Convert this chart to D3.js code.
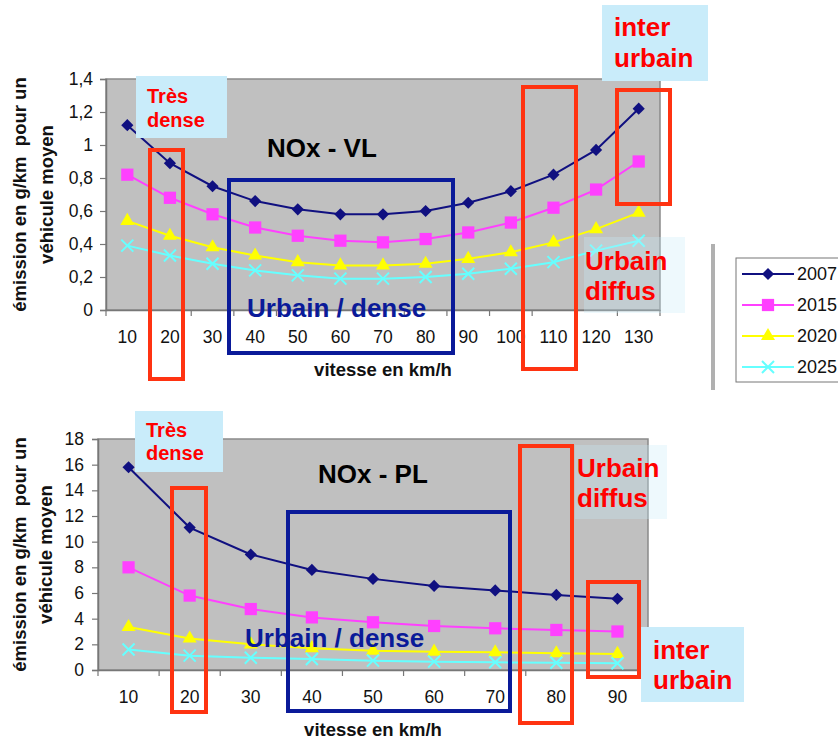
<!DOCTYPE html>
<html><head><meta charset="utf-8">
<script src="https://cdn.jsdelivr.net/npm/d3@7"></script>
<style>
html,body{margin:0;padding:0;background:#fff;}
svg{display:block;font-family:"Liberation Sans",Arial,sans-serif;}
</style></head>
<body><svg id="c" width="838" height="740"></svg>
<script>
// ---------- DATA ----------
const years = ["2007","2015","2020","2025"];
const speedsVL = [10,20,30,40,50,60,70,80,90,100,110,120,130];
const vl2007 = [1.12,0.89,0.75,0.66,0.61,0.58,0.58,0.60,0.65,0.72,0.82,0.97,1.22];
const vl2015 = [0.82,0.68,0.58,0.50,0.45,0.42,0.41,0.43,0.47,0.53,0.62,0.73,0.90];
const vl2020 = [0.54,0.45,0.38,0.33,0.29,0.27,0.27,0.28,0.31,0.35,0.41,0.49,0.59];
const vl2025 = [0.39,0.33,0.28,0.24,0.21,0.19,0.19,0.20,0.22,0.25,0.29,0.36,0.42];
const yTicksVL = [0,0.2,0.4,0.6,0.8,1,1.2,1.4];

const speedsPL = [10,20,30,40,50,60,70,80,90];
const pl2007 = [15.8,11.1,9.0,7.8,7.1,6.55,6.2,5.85,5.55];
const pl2015 = [8.0,5.8,4.75,4.1,3.72,3.43,3.25,3.12,3.0];
const pl2020 = [3.35,2.45,2.0,1.7,1.5,1.43,1.38,1.3,1.25];
const pl2025 = [1.6,1.12,0.96,0.86,0.73,0.65,0.6,0.57,0.52];
const yTicksPL = [0,2,4,6,8,10,12,14,16,18];

const xTitle = "vitesse en km/h";
const yTitle = ["émission en g/km  pour un","véhicule moyen"];

// ---------- STYLE ----------
const colors = ["#101080","#ff40ff","#ffff00","#66ffff"];
const symbols = ["diamond","square","triangle","cross"];
const RED = "#ff3311", BLUE = "#0a1a99", LIGHT = "#c9ecfa";

const svg = d3.select("#c");

function marker(g, type, color){
  if(type==="diamond"){
    g.append("path").attr("d", d3.symbol(d3.symbolSquare, 74)()).attr("transform","rotate(45)").attr("fill",color);
  } else if(type==="square"){
    g.append("path").attr("d", d3.symbol(d3.symbolSquare, 150)()).attr("fill",color);
  } else if(type==="triangle"){
    g.append("path").attr("d", d3.symbol(d3.symbolTriangle, 85)()).attr("fill",color);
  } else {
    g.append("path").attr("d","M-6,-6L6,6M-6,6L6,-6").attr("stroke",color).attr("stroke-width",2).attr("fill","none");
  }
}

function chart(cfg){
  const {speeds, series, yTicks, yMax, left, right, top, bottom, labelX, tickFmt} = cfg;
  const x = d3.scaleBand().domain(speeds).range([left,right]);
  const y = d3.scaleLinear().domain([0,yMax]).range([bottom,top]);
  const g = svg.append("g");
  g.append("rect").attr("x",left).attr("y",top).attr("width",right-left).attr("height",bottom-top)
    .attr("fill","#c0c0c0").attr("stroke","#8a8a8a").attr("stroke-width",1.5);
  // y axis
  const ya = g.append("g").attr("transform",`translate(${left},0)`)
    .call(d3.axisLeft(y).tickValues(yTicks).tickSize(6).tickPadding(labelX).tickFormat(tickFmt));
  ya.select(".domain").attr("stroke","#777").attr("stroke-width",1.5);
  ya.selectAll(".tick line").attr("stroke","#777").attr("stroke-width",1.2);
  ya.selectAll("text").attr("font-size",17.5).attr("fill","#111").attr("font-family","Liberation Sans, Arial");
  // x axis
  const xa = g.append("g").attr("transform",`translate(0,${bottom})`)
    .call(d3.axisBottom(x).tickSize(0).tickPadding(21));
  xa.select(".domain").attr("stroke","#777").attr("stroke-width",1.5);
  xa.selectAll("text").attr("font-size",17.5).attr("fill","#111").attr("font-family","Liberation Sans, Arial");
  const bounds = speeds.map(s=>x(s)).concat([right]);
  g.selectAll(".xt").data(bounds).enter().append("line")
    .attr("x1",d=>d).attr("x2",d=>d).attr("y1",bottom).attr("y2",bottom+6)
    .attr("stroke","#777").attr("stroke-width",1.2);
  // titles
  g.append("text").attr("x",(left+right)/2).attr("y",bottom+66).attr("text-anchor","middle")
    .attr("font-weight","bold").attr("font-size",18.5).attr("fill","#111").text(xTitle);
  const cy = (top+bottom)/2;
  yTitle.forEach((t,i)=>{
    g.append("text").attr("transform",`translate(${cfg.yTitleX[i]},${cy}) rotate(-90)`)
      .attr("text-anchor","middle").attr("dy","0.35em").style("white-space","pre")
      .attr("font-weight","bold").attr("font-size",18.5).attr("fill","#111").text(t);
  });
  // lines
  const cx = s => x(s)+x.bandwidth()/2;
  series.forEach((vals,i)=>{
    const pts = speeds.map((s,j)=>[cx(s), y(vals[j])]);
    g.append("path").attr("d", d3.line()(pts)).attr("fill","none")
      .attr("stroke",colors[i]).attr("stroke-width",2);
    pts.forEach(p=>{
      const m = g.append("g").attr("transform",`translate(${p[0]},${p[1]})`);
      marker(m, symbols[i], colors[i]);
    });
  });
  return {x,y,g};
}

const comma = d => String(d).replace(".",",");

chart({speeds:speedsVL, series:[vl2007,vl2015,vl2020,vl2025], yTicks:yTicksVL, yMax:1.4,
  left:106, right:660, top:79, bottom:310, labelX:7, tickFmt:comma, yTitleX:[20,47]});
chart({speeds:speedsPL, series:[pl2007,pl2015,pl2020,pl2025], yTicks:yTicksPL, yMax:18,
  left:98, right:648, top:439, bottom:670, labelX:8, tickFmt:d=>String(d), yTitleX:[20,46]});

// ---------- ANNOTATIONS ----------
function box(x,y,w,h,fill,op){
  svg.append("rect").attr("x",x).attr("y",y).attr("width",w).attr("height",h).attr("fill",fill).attr("fill-opacity",op==null?1:op);
}
function frame(x,y,w,h,color){
  svg.append("rect").attr("x",x).attr("y",y).attr("width",w).attr("height",h)
    .attr("fill","none").attr("stroke",color).attr("stroke-width",4);
}
function label(x,y,lines,size,color,lh){
  lines.forEach((t,i)=>svg.append("text").attr("x",x).attr("y",y+i*lh).attr("font-size",size)
    .attr("font-weight","bold").attr("fill",color).text(t));
}

// top chart
box(136,76,91,62,LIGHT);
label(147,103,["Très","dense"],20,"#ff0000",24);
box(602,5,106,76,LIGHT);
label(614,36,["inter","urbain"],26,"#ff0000",31);
box(584,237,101,76,"#c8ebfa",0.3);
label(585,270,["Urbain","diffus"],26,"#ff0000",30);
svg.append("text").attr("x",267).attr("y",157).attr("font-size",26).attr("font-weight","bold").attr("fill","#000").text("NOx - VL");
frame(229,180,224,173,BLUE);
label(247,317,["Urbain / dense"],26,BLUE,0);
frame(150,150,33,229,RED);
frame(523,87,53,282,RED);
frame(617,90,53,114,RED);

// bottom chart
box(135,411,88,61,LIGHT);
label(146,437,["Très","dense"],20,"#ff0000",23);
box(575,445,92,74,"#c8ebfa",0.3);
label(577,477,["Urbain","diffus"],26,"#ff0000",30);
box(641,627,103,75,LIGHT);
label(653,659,["inter","urbain"],26,"#ff0000",30);
svg.append("text").attr("x",318).attr("y",483).attr("font-size",26).attr("font-weight","bold").attr("fill","#000").text("NOx - PL");
frame(288,512,222,199,BLUE);
label(245,647,["Urbain / dense"],26,BLUE,0);
frame(172,488,34,224,RED);
frame(520,446,52,277,RED);
frame(588,582,51,95,RED);

// ---------- LEGEND ----------
svg.append("rect").attr("x",711).attr("y",244).attr("width",4).attr("height",146).attr("fill","#b0b0b0");
svg.append("rect").attr("x",736).attr("y",258).attr("width",120).attr("height",124)
  .attr("fill","#fff").attr("stroke","#777").attr("stroke-width",1);
years.forEach((yr,i)=>{
  const yy = 274 + i*31;
  svg.append("line").attr("x1",742).attr("x2",794).attr("y1",yy).attr("y2",yy).attr("stroke",colors[i]).attr("stroke-width",2);
  const m = svg.append("g").attr("transform",`translate(768,${yy})`);
  marker(m, symbols[i], colors[i]);
  svg.append("text").attr("x",797).attr("y",yy).attr("dy","0.36em").attr("font-size",18).attr("fill","#111").text(yr);
});
</script></body></html>
